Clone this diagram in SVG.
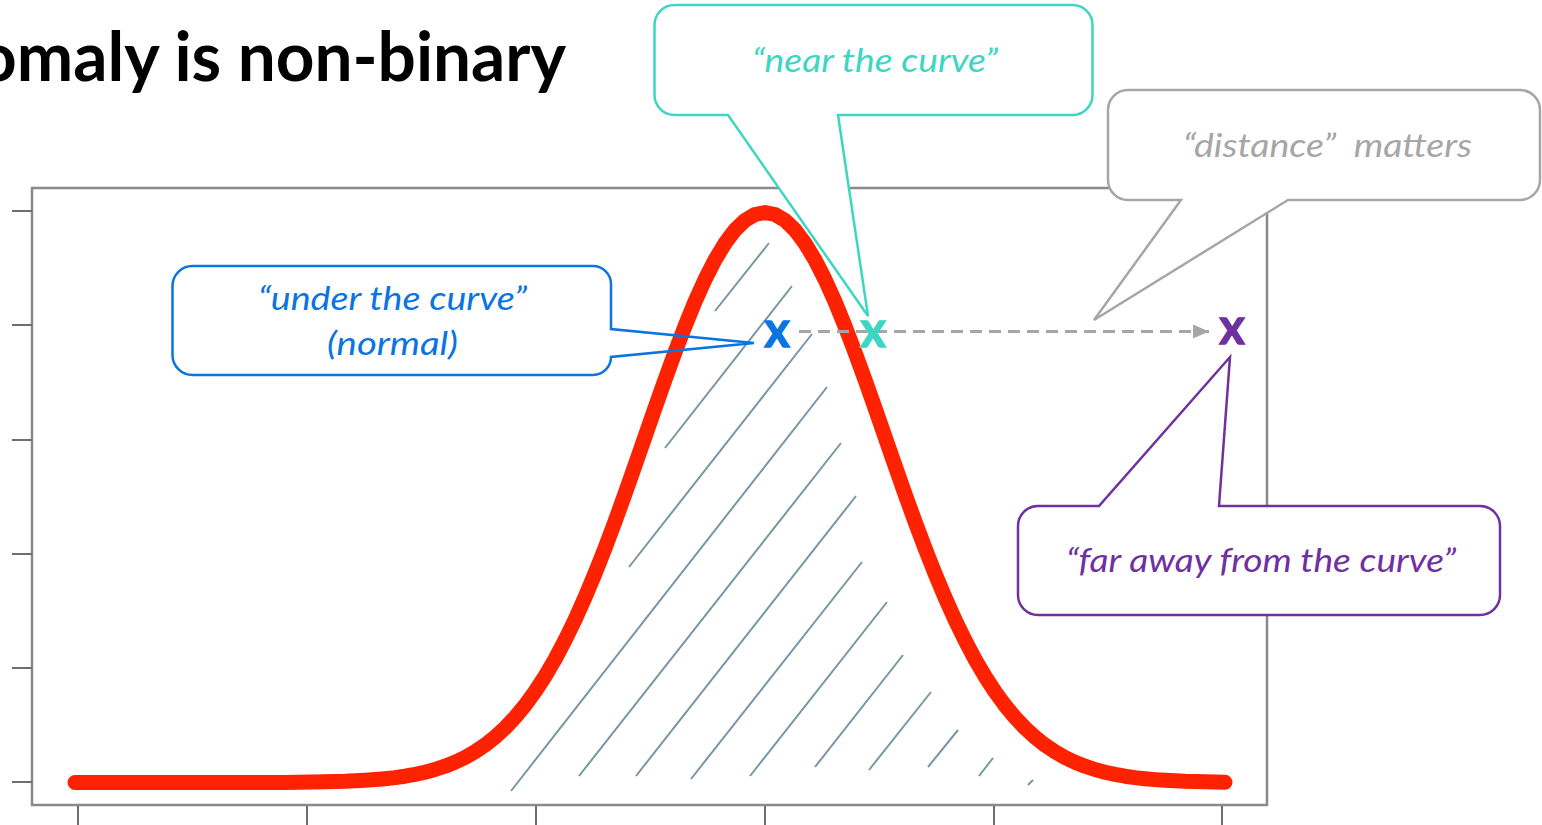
<svg xmlns="http://www.w3.org/2000/svg" width="1542" height="825" viewBox="0 0 1542 825">
  <style>
    .frame { fill: #ffffff; stroke: #8a8a8a; stroke-width: 2.5; }
    .tick { stroke: #6e6e6e; stroke-width: 2; }
    .curve { fill: none; stroke: #ff2200; stroke-width: 15; stroke-linejoin: round; stroke-linecap: round; }
    .hatch { stroke: #7896a5; stroke-width: 2; stroke-linecap: butt; }
    .dash { fill: none; stroke: #a6a6a6; stroke-width: 3; stroke-dasharray: 12 7; }
    .bg { fill: #ffffff; stroke: none; }
    .callout { stroke-width: 2.5; stroke-linejoin: miter; }
    .lbl { font-family: Lato, "Open Sans", "Noto Sans", sans-serif; font-style: italic; font-size: 32px; }
    .mark { font-family: Lato, "Open Sans", "Noto Sans", sans-serif; font-weight: 900; font-size: 36px; text-anchor: middle; stroke-width: 1.6; paint-order: stroke; }
    .title { font-family: Lato, "Open Sans", "Noto Sans", sans-serif; font-weight: 700; font-size: 68px; fill: #000000; }
  </style>
  <defs>
    <marker id="arrow" viewBox="0 0 16 14" refX="16" refY="7" markerWidth="16" markerHeight="14" markerUnits="userSpaceOnUse" orient="auto">
      <path d="M0,0 L16,7 L0,14 Z" fill="#a6a6a6"/>
    </marker>
  </defs>

  <rect width="1542" height="825" fill="#ffffff"/>

  <text id="title" class="title" x="-22" y="81" textLength="588" lengthAdjust="spacingAndGlyphs">omaly is non-binary</text>

  <g id="plot">
    <rect class="frame" x="32" y="188" width="1235" height="617"/>
    <g id="y-ticks">
      <line class="tick" x1="12" y1="211" x2="32" y2="211"/>
      <line class="tick" x1="12" y1="325" x2="32" y2="325"/>
      <line class="tick" x1="12" y1="440" x2="32" y2="440"/>
      <line class="tick" x1="12" y1="554" x2="32" y2="554"/>
      <line class="tick" x1="12" y1="668" x2="32" y2="668"/>
      <line class="tick" x1="12" y1="782" x2="32" y2="782"/>
    </g>
    <g id="x-ticks">
      <line class="tick" x1="78" y1="806" x2="78" y2="825"/>
      <line class="tick" x1="307" y1="806" x2="307" y2="825"/>
      <line class="tick" x1="536" y1="806" x2="536" y2="825"/>
      <line class="tick" x1="765" y1="806" x2="765" y2="825"/>
      <line class="tick" x1="994" y1="806" x2="994" y2="825"/>
      <line class="tick" x1="1222" y1="806" x2="1222" y2="825"/>
    </g>
    <g id="hatching">
      <line class="hatch" x1="715" y1="311" x2="769" y2="243"/>
      <line class="hatch" x1="665" y1="448" x2="792" y2="286"/>
      <line class="hatch" x1="629" y1="567" x2="812" y2="334"/>
      <line class="hatch" x1="511" y1="791" x2="827" y2="387"/>
      <line class="hatch" x1="579" y1="776" x2="841" y2="443"/>
      <line class="hatch" x1="636" y1="776" x2="856" y2="496"/>
      <line class="hatch" x1="691" y1="779" x2="862" y2="562"/>
      <line class="hatch" x1="750" y1="776" x2="887" y2="602"/>
      <line class="hatch" x1="815" y1="767" x2="903" y2="655"/>
      <line class="hatch" x1="869" y1="770" x2="931" y2="692"/>
      <line class="hatch" x1="928" y1="767" x2="958" y2="730"/>
      <line class="hatch" x1="979" y1="776" x2="993" y2="758"/>
      <line class="hatch" x1="1028" y1="785" x2="1033" y2="780"/>
    </g>
    <polyline id="normal-curve" class="curve" points="75,782.5 285,782.5 325,781.8 345,781.3 365,780.3 375,779.6 385,778.7 395,777.6 405,776.2 415,774.4 425,772.2 435,769.5 445,766.2 455,762.2 465,757.5 475,751.8 485,745.1 495,737.1 505,728 515,717.4 525,705.4 535,691.7 545,676.3 555,659.2 565,640.3 575,619.8 585,597.4 595,573.5 605,548.2 615,521.6 625,493.9 635,465.5 645,436.8 655,408 665,379.7 675,352.3 685,326.1 695,301.6 705,279.5 715,259.9 725,243.3 735,230 745,220.4 755,214.5 765,212.5 775,214.5 785,220.4 795,230 805,243.3 815,259.9 825,279.5 835,301.6 845,326.1 855,352.3 865,379.7 875,408 885,436.8 895,465.5 905,493.9 915,521.6 925,548.2 935,573.5 945,597.4 955,619.8 965,640.3 975,659.2 985,676.3 995,691.7 1005,705.4 1015,717.4 1025,728 1035,737.1 1045,745.1 1055,751.8 1065,757.5 1075,762.2 1085,766.2 1095,769.5 1105,772.2 1115,774.4 1125,776.2 1135,777.6 1145,778.7 1155,779.6 1165,780.3 1185,781.3 1205,781.8 1225,782.3"/>
  </g>

  <g id="connectors">
    <line class="dash" x1="799" y1="331.5" x2="1209" y2="331.5" marker-end="url(#arrow)"/>
  </g>

  <g id="callout-under">
    <path class="bg" d="M192.5,266 H593 A18,18 0 0 1 611,284 V357 A18,18 0 0 1 593,375 H192.5 A20,20 0 0 1 172.5,355 V286 A20,20 0 0 1 192.5,266 Z"/>
    <path class="callout" fill="none" stroke="#0a74e0" d="M192.5,266 H593 A18,18 0 0 1 611,284 V329 L754,343 L611,357 A18,18 0 0 1 593,375 H192.5 A20,20 0 0 1 172.5,355 V286 A20,20 0 0 1 192.5,266 Z"/>
    <text class="lbl" fill="#0a74e0" x="258" y="310" textLength="269" lengthAdjust="spacingAndGlyphs">“under the curve”</text>
    <text class="lbl" fill="#0a74e0" x="327" y="355" textLength="131" lengthAdjust="spacingAndGlyphs">(normal)</text>
  </g>

  <g id="callout-near">
    <path class="callout" fill="#ffffff" stroke="#3cd6c2" d="M674.5,5 H1072.5 A20,20 0 0 1 1092.5,25 V95 A20,20 0 0 1 1072.5,115 H838 L868,316 L728,115 H674.5 A20,20 0 0 1 654.5,95 V25 A20,20 0 0 1 674.5,5 Z"/>
    <text class="lbl" fill="#3cd6c2" x="752" y="72" textLength="246" lengthAdjust="spacingAndGlyphs">“near the curve”</text>
  </g>

  <g id="callout-distance">
    <path class="callout" fill="#ffffff" stroke="#a6a6a6" d="M1128,90 H1520 A20,20 0 0 1 1540,110 V180 A20,20 0 0 1 1520,200 H1288 L1094,320 L1181,200 H1128 A20,20 0 0 1 1108,180 V110 A20,20 0 0 1 1128,90 Z"/>
    <text class="lbl" fill="#a6a6a6" x="1183" y="157" textLength="289" lengthAdjust="spacingAndGlyphs" xml:space="preserve">“distance”  matters</text>
  </g>

  <g id="callout-far">
    <path class="callout" fill="#ffffff" stroke="#7030a0" d="M1038,506 H1099 L1230,357 L1219,506 H1480 A20,20 0 0 1 1500,526 V595 A20,20 0 0 1 1480,615 H1038 A20,20 0 0 1 1018,595 V526 A20,20 0 0 1 1038,506 Z"/>
    <text class="lbl" fill="#7030a0" x="1066" y="572" textLength="390" lengthAdjust="spacingAndGlyphs">“far away from the curve”</text>
  </g>

  <g id="point-normal"><text class="mark" fill="#0a74e0" stroke="#0a74e0" x="777" y="347">X</text></g>
  <g id="point-near"><text class="mark" fill="#3cd6c2" stroke="#3cd6c2" x="873" y="347">X</text></g>
  <g id="point-far"><text class="mark" fill="#7030a0" stroke="#7030a0" x="1232" y="343.5">X</text></g>
</svg>
